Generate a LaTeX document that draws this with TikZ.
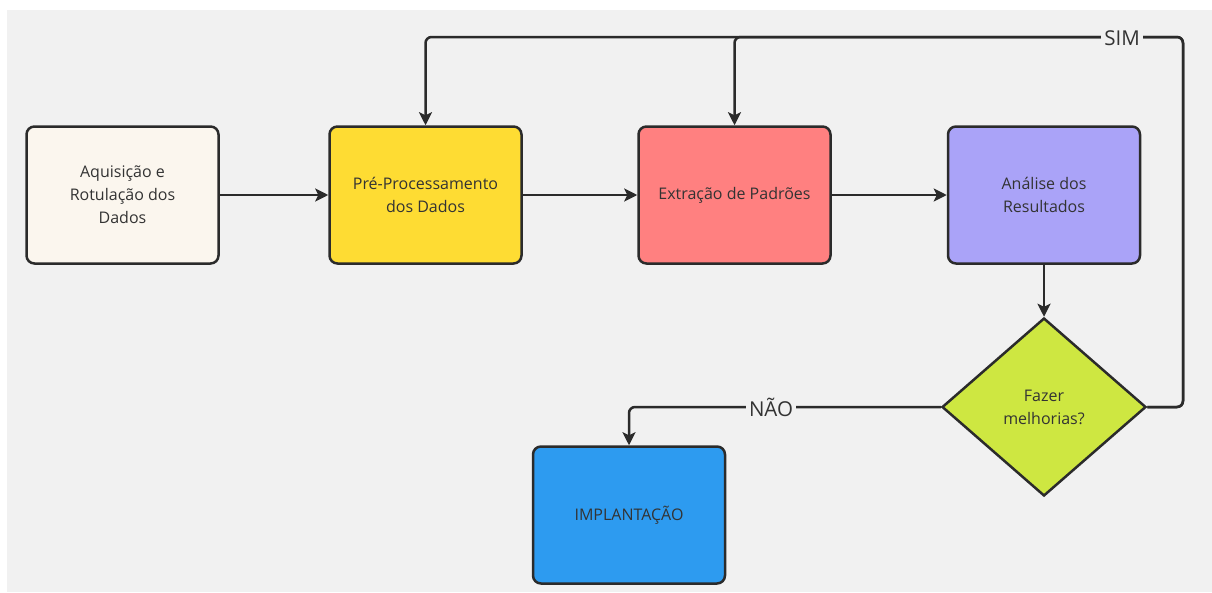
\documentclass[tikz,border=0pt]{standalone}
\usepackage{fontspec}
\setmainfont{Open Sans}
\usetikzlibrary{shapes.geometric,arrows.meta}
\definecolor{bg}{HTML}{F1F1F1}
\definecolor{ln}{HTML}{2B2B2B}
\definecolor{tx}{HTML}{333333}
\definecolor{cA}{HTML}{FBF6EE}
\definecolor{cB}{HTML}{FEDC33}
\definecolor{cC}{HTML}{FF8080}
\definecolor{cD}{HTML}{AAA3F8}
\definecolor{cE}{HTML}{2D9BF0}
\definecolor{cF}{HTML}{CEE741}
\tikzset{
  box/.style={draw=ln, line width=2.5pt, rounded corners=8pt, minimum width=192pt, minimum height=137pt, align=center, text=tx, font=\fontsize{16}{23}\selectfont, inner sep=2pt},
  dec/.style={draw=ln, line width=2.5pt, diamond, aspect=1.146, minimum width=204pt, minimum height=178pt, inner sep=0pt, align=center, text=tx, font=\fontsize{16}{23}\selectfont},
  conn/.style={draw=ln, line width=2.5pt, rounded corners=6pt, -{Stealth[length=13pt,width=13pt,inset=3pt]}},
  lbl/.style={fill=bg, text=tx, font=\fontsize{20.5}{22}\selectfont, inner sep=3pt}
}
\begin{document}
\begin{tikzpicture}[x=1pt,y=-1pt]
\useasboundingbox (0,0) rectangle (1212,592);
\fill[white] (0,0) rectangle (1212,592);
\fill[bg] (7,10) rectangle (1212,592);
\node[box, fill=cA] (A) at (122.5,195) {Aquisição e\\Rotulação dos\\Dados};
\node[box, fill=cB] (B) at (425.5,195) {Pré-Processamento\\dos Dados};
\node[box, fill=cC] (C) at (734.5,195) {Extração de Padrões};
\node[box, fill=cD] (D) at (1044,195) {Análise dos\\Resultados};
\node[dec, fill=cF] (F) at (1044,407) {Fazer\\melhorias?};
\node[box, fill=cE] (E) at (629,515) {IMPLANTAÇÃO};
\coordinate (r1) at (1183,407);
\coordinate (r2) at (1183,37);
\draw[conn] (A.east) -- (B.west);
\draw[conn] (B.east) -- (C.west);
\draw[conn] (C.east) -- (D.west);
\draw[conn] (D.south) -- (F.north);
\draw[conn] (F.east) -- (r1) -- (r2) -- (B.north |- r2) -- (B.north);
\draw[conn] (F.east) -- (r1) -- (r2) -- (C.north |- r2) -- (C.north);
\draw[conn] (F.west) -- (E.north |- F.west) -- (E.north);
\node[lbl] (sim) at (1122,38) {SIM};
\node[lbl] (nao) at (771,407) {NÃO};
\end{tikzpicture}
\end{document}
